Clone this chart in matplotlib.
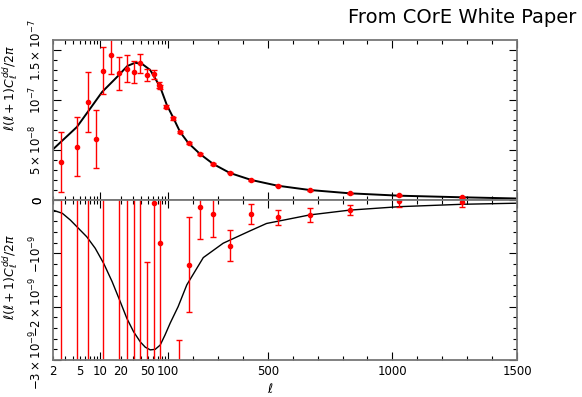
import matplotlib.pyplot as plt
import numpy as np
from matplotlib.ticker import FixedLocator, FixedFormatter, FuncFormatter

plt.rcParams.update({'font.family': 'DejaVu Sans', 'font.size': 8.5,
                     'mathtext.fontset': 'dejavusans'})

# theory curves
th_l = [2, 4.5, 7, 10.6, 17.6, 25, 32.7, 42, 54.4, 76.3, 95.6, 121, 148, 181,
        228, 281, 348, 434, 539, 668, 828, 1028, 1281, 1500]
th_up = [5.07e-8, 7.3e-8, 9.1e-8, 1.08e-7, 1.23e-7, 1.34e-7, 1.373e-7, 1.357e-7,
         1.30e-7, 1.13e-7, 9.5e-8, 8.2e-8, 6.8e-8, 5.7e-8, 4.6e-8, 3.6e-8,
         2.7e-8, 2.0e-8, 1.43e-8, 1.0e-8, 6.7e-9, 4.3e-9, 2.7e-9, 1.5e-9]

tl_l = [2, 2.75, 3.6, 6.3, 8.4, 11.2, 14.9, 19.7, 24.6, 30.9, 38.8, 46, 54.4,
        64.4, 76.3, 90, 108, 140, 175, 241, 321, 428, 495, 668, 828, 1028,
        1281, 1500]
tl_dn = [-1.9e-10, -2.5e-10, -3.75e-10, -6.9e-10, -9.06e-10, -1.19e-9, -1.53e-9,
         -1.91e-9, -2.22e-9, -2.47e-9, -2.66e-9, -2.76e-9, -2.81e-9, -2.8e-9,
         -2.72e-9, -2.53e-9, -2.31e-9, -2.0e-9, -1.59e-9, -1.08e-9, -8.1e-10,
         -5.8e-10, -4.4e-10, -2.8e-10, -1.9e-10, -1.25e-10, -8e-11, -6e-11]

# measured points, upper panel
up_l = [2.6, 4.5, 6.6, 8.7, 11.0, 14.5, 19.0, 24.4, 30.9, 38.8, 48.6, 61.6,
        73.7, 77.1, 94.5, 118.7, 148, 183, 228, 281, 348, 434, 539, 668, 831,
        1028, 1279]
up_val = [3.77e-8, 5.33e-8, 9.77e-8, 6.07e-8, 1.293e-7, 1.447e-7, 1.267e-7,
          1.313e-7, 1.28e-7, 1.367e-7, 1.25e-7, 1.26e-7, 1.15e-7, 1.127e-7,
          9.33e-8, 8.17e-8, 6.83e-8, 5.73e-8, 4.6e-8, 3.6e-8, 2.73e-8, 2.0e-8,
          1.43e-8, 1.0e-8, 6.7e-9, 4.7e-9, 2.7e-9]
up_err = [3.0e-8, 2.95e-8, 3.0e-8, 2.9e-8, 2.35e-8, 1.9e-8, 1.65e-8, 1.35e-8,
          1.1e-8, 0.95e-8, 0.6e-8, 0.45e-8, 0.3e-8, 0.2e-8, 0.15e-8, 0.12e-8,
          0.1e-8, 0.08e-8, 0.07e-8, 0.06e-8, 0.06e-8, 0.05e-8, 0.05e-8,
          0.05e-8, 0.05e-8, 0.05e-8, 0.05e-8]

# measured points, lower panel
lo_l = [2.6, 4.5, 6.6, 11.0, 19.0, 24.4, 30.9, 38.8, 48.6, 61.6, 77.1, 145,
        183, 228, 281, 348, 434, 539, 668, 831, 1028, 1279]
lo_val = [-5e-9, 3e-9, -4e-9, 2e-9, -5e-9, 3e-9, -4e-9, 2e-9, -4e-9, -6.2e-11,
          -8.1e-10, -3.4e-9, -1.21e-9, -1.37e-10, -2.65e-10, -8.6e-10, -2.6e-10,
          -3.25e-10, -2.8e-10, -1.9e-10, -2.4e-11, -3e-11]
lo_err = [8e-9, 8e-9, 8e-9, 8e-9, 8e-9, 8e-9, 8e-9, 8e-9, 2.84e-9, 3.5e-9,
          2.5e-9, 0.78e-9, 8.9e-10, 6e-10, 4.2e-10, 2.9e-10, 1.9e-10, 1.4e-10,
          1.25e-10, 1.0e-10, 1.0e-10, 1.0e-10]

# x axis: log below l=100, linear above
K = 0.25 / 68.0


def fwd(l):
    l = np.asarray(l, dtype=float)
    return np.where(l <= 100, np.log10(np.clip(l, 1e-3, None)), 2 + (l - 100) * K)


def inv(u):
    u = np.asarray(u, dtype=float)
    return np.where(u <= 2, 10 ** np.minimum(u, 2), 100 + (u - 2) / K)


major_x = [10, 100, 500, 1000, 1500]
minor_x = [2, 3, 4, 5, 6, 7, 8, 9, 20, 30, 40, 50, 60, 70, 80, 90] + \
    [l for l in range(200, 1500, 100) if l not in (500, 1000)]
labelled_minor = {2, 5, 20, 50}

fig = plt.figure(figsize=(5.82, 3.97), dpi=100)
ax1 = fig.add_axes([53 / 582, 1 - 200 / 397, 464 / 582, 160 / 397])
ax2 = fig.add_axes([53 / 582, 1 - 360 / 397, 464 / 582, 160 / 397])

ax1.plot(th_l, th_up, color='black', lw=1.4)
ax1.errorbar(up_l, up_val, yerr=up_err, fmt='o', color='red', ms=3,
             elinewidth=1, capsize=2, capthick=1)
ax2.plot(tl_l, tl_dn, color='black', lw=1.0)
ax2.errorbar(lo_l, lo_val, yerr=lo_err, fmt='o', color='red', ms=3,
             elinewidth=1, capsize=2, capthick=1)

for ax in (ax1, ax2):
    ax.set_xscale('function', functions=(fwd, inv))
    ax.set_xlim(2, 1500)
    ax.xaxis.set_major_locator(FixedLocator(major_x))
    ax.xaxis.set_minor_locator(FixedLocator(minor_x))
    ax.xaxis.set_major_formatter(FixedFormatter([str(v) for v in major_x]))
    ax.xaxis.set_minor_formatter(FuncFormatter(
        lambda v, p: str(int(round(v))) if int(round(v)) in labelled_minor else ''))
    ax.tick_params(which='both', direction='in', top=True, right=True,
                   color='black', width=0.8)
    ax.tick_params(which='major', length=6)
    ax.tick_params(which='minor', length=3)
    ax.tick_params(axis='y', pad=6)
    for s in ax.spines.values():
        s.set_color('#777777')
        s.set_linewidth(1.3)

ax1.tick_params(axis='x', which='both', labelbottom=False)

ax1.set_ylim(0, 1.6e-7)
ax1.yaxis.set_major_locator(FixedLocator([0, 5e-8, 1e-7, 1.5e-7]))
ax1.yaxis.set_minor_locator(FixedLocator(np.arange(1, 16) * 1e-8))
ax1.yaxis.set_major_formatter(FixedFormatter(
    ['0', r'$5\times10^{-8}$', r'$10^{-7}$', r'$1.5\times10^{-7}$']))

ax2.set_ylim(-3e-9, 0)
ax2.yaxis.set_major_locator(FixedLocator([-3e-9, -2e-9, -1e-9, 0]))
ax2.yaxis.set_minor_locator(FixedLocator(-np.arange(1, 15) * 2e-10))
ax2.yaxis.set_major_formatter(FixedFormatter(
    [r'$-3\times10^{-9}$', r'$-2\times10^{-9}$', r'$-10^{-9}$', '0']))

for ax in (ax1, ax2):
    for lab in ax.get_yticklabels():
        lab.set_rotation(90)
        lab.set_va('center')
        lab.set_ha('right')

ylab = r'$\ell(\ell+1)C_\ell^{dd}/2\pi$'
ax1.set_ylabel(ylab, fontsize=9)
ax1.yaxis.set_label_coords(-0.072, 0.7)
ax2.set_ylabel(ylab, fontsize=9)
ax2.yaxis.set_label_coords(-0.072, 0.52)
ax2.set_xlabel(r'$\ell$', fontsize=9)
ax2.xaxis.set_label_coords(0.468, -0.135)

fig.text(0.99, 0.955, 'From COrE White Paper', ha='right', va='center',
         fontsize=14)

fig.savefig('out.png', dpi=100)
